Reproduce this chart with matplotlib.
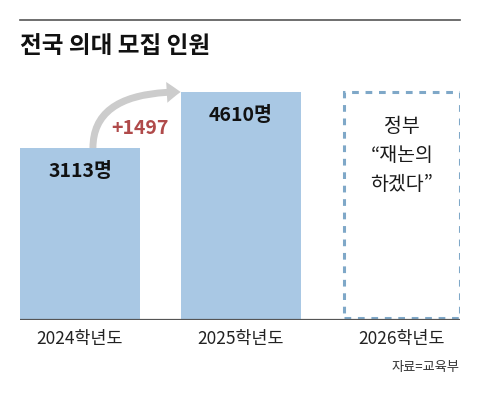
import matplotlib
matplotlib.use("Agg")
import matplotlib.pyplot as plt
from matplotlib.lines import Line2D

plt.rcParams['font.family'] = ['Noto Sans CJK KR', 'DejaVu Sans']

years = ["2024학년도", "2025학년도", "2026학년도"]
values = [3113, 4610]
value_labels = ["3113명", "4610명"]
diff_label = "+1497"
box_text = "정부\n\u201c재논의\n하겠다\u201d"
title = "전국 의대 모집 인원"
source = "자료=교육부"

# bars are not drawn to scale in the original, they start below zero
base = -1485

bar_color = "#a9c8e4"
box_color = "#7fa8c8"

fig = plt.figure(figsize=(4.8, 3.94), dpi=100)
ax = fig.add_axes([20 / 480, 74 / 394, 440 / 480, 260 / 394])
ax.set_xlim(-0.373, 2.36)
ax.set_ylim(base, 5465)
ax.axis('off')

xs = [0, 1, 2]
ax.bar(xs[:2], [v - base for v in values], bottom=base, width=0.74,
       color=bar_color, edgecolor='none')
ax.bar(xs[2], values[1] - base - 60, bottom=base + 60, width=0.72,
       fill=False, edgecolor=box_color, linewidth=2.2, linestyle=(0, (2.2, 2.2)))

for x, v, lab in zip(xs, values, value_labels):
    ax.text(x, v - 640, lab, ha='center', va='center', fontsize=14,
            fontweight='bold', color='#111111')

ax.text(2, 2925, box_text, ha='center', va='center', fontsize=14,
        color='#1a1a1a', linespacing=1.5)

ax.annotate("", xy=(0.625, 4610), xytext=(0.08, 3113),
            arrowprops=dict(arrowstyle="simple,head_length=1.0,head_width=1.5,tail_width=0.5",
                            connectionstyle="angle3,angleA=90,angleB=0",
                            color="#cccccc", lw=0, shrinkA=0, shrinkB=0))
ax.text(0.37, 3647, diff_label, ha='center', va='center', fontsize=14,
        fontweight='bold', color='#b04a4a')

ax.axhline(base, color='#555555', lw=1.6)

for x, lab in zip(xs, years):
    ax.text(x, base - 520, lab, ha='center', va='center', fontsize=12.5,
            color='#222222')

fig.add_artist(Line2D([20 / 480, 460 / 480], [1 - 20 / 394, 1 - 20 / 394],
                      color='#555555', lw=1.2))
fig.text(20 / 480, 1 - 46 / 394, title, ha='left', va='center', fontsize=17,
         fontweight='bold', color='#111111')
fig.text(460 / 480, 1 - 368 / 394, source, ha='right', va='center', fontsize=9.5,
         color='#333333')

fig.savefig("out.png", dpi=100)
